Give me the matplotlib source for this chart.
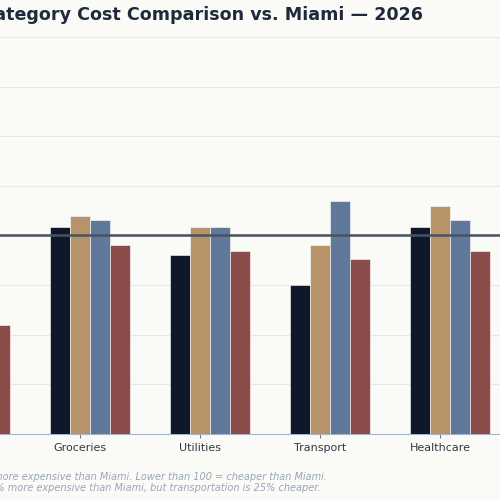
import numpy as np
import matplotlib.pyplot as plt

categories = ["Housing", "Groceries", "Utilities", "Transport", "Healthcare"]
series_names = ["City A", "City B", "City C", "City D"]
city_a = [175, 103.6, 92, 80, 103.6]
city_b = [160, 108, 103.6, 96, 112]
city_c = [150, 106.4, 103.6, 114, 106.4]
city_d = [64, 96, 93.6, 90.4, 93.6]
colors = ["#0f172a", "#b8936a", "#60799a", "#8b4c4c"]

bg = "#fafaf7"
fig = plt.figure(figsize=(5, 5), dpi=100, facecolor=bg)
# axes extends past the left edge, as in the reference crop
ax = fig.add_axes([-0.2, 0.132, 1.2, 0.794], facecolor=bg)

x = np.arange(len(categories))
w = 0.1667
for k, vals in enumerate([city_a, city_b, city_c, city_d]):
    ax.bar(x + (k - 1) * w, vals, w, color=colors[k], label=series_names[k],
           edgecolor="white", linewidth=0.4, zorder=3)

ax.axhline(100, color="#4a5260", lw=1.8, zorder=4)
ax.set_xlim(-0.5, 4.5)
ax.set_ylim(20, 180)
ax.set_yticks(np.arange(20, 181, 20))
ax.grid(axis="y", color="#e6e6ec", lw=0.8, zorder=0)
ax.set_xticks(x)
ax.set_xticklabels(categories, fontsize=8, color="#333a44")
ax.tick_params(axis="x", length=3, color="#777777")
ax.tick_params(axis="y", left=False, labelleft=False)
for s in ["top", "right", "left"]:
    ax.spines[s].set_visible(False)
ax.spines["bottom"].set_color("#a8b4c8")

fig.text(0.846, 0.97, "Category-by-Category Cost Comparison vs. Miami — 2026",
         ha="right", va="center", fontsize=12.6, fontweight="bold", color="#1e293b")
fig.text(0.654, 0.046, "Index: 100 = Miami. Higher than 100 = more expensive than Miami. Lower than 100 = cheaper than Miami.",
         ha="right", va="center", fontsize=7, style="italic", color="#9aa5b8")
fig.text(0.641, 0.024, "Example: overall, the cost of living is 55% more expensive than Miami, but transportation is 25% cheaper.",
         ha="right", va="center", fontsize=7, style="italic", color="#9aa5b8")

fig.savefig("out.png", dpi=100, facecolor=bg)
